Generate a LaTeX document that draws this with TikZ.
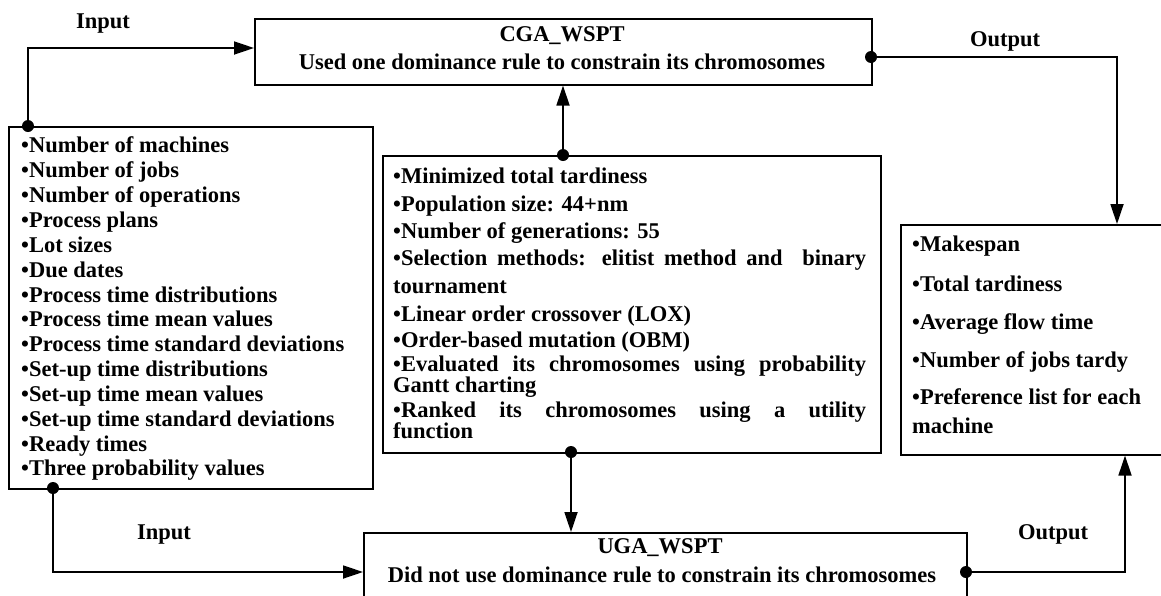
\documentclass[tikz,border=0pt]{standalone}
\usepackage{fontspec}
\setmainfont{Liberation Serif}
\usetikzlibrary{arrows.meta,calc}
\begin{document}
\begin{tikzpicture}[x=1pt,y=-1pt,
  box/.style={draw,line width=1.6pt,anchor=north west,inner sep=0pt},
  txt/.style={font=\fontsize{22.5}{24}\selectfont\bfseries,inner sep=0pt,text height=0.68em,text depth=0.2em,yshift=-3.5pt},
  lt/.style={txt,anchor=west},
  conn/.style={line width=1.8pt},
  arr/.style={conn,-{Triangle[length=20pt,width=13pt]}},
  dot/.style={circle,fill,inner sep=0pt,minimum size=12pt}]
\useasboundingbox (0,0) rectangle (1161,595);
% boxes
\node[box,minimum width=617pt,minimum height=66pt] (cga) at (254,18) {};
\node[box,minimum width=364pt,minimum height=362pt] (inb) at (8,126) {};
\node[box,minimum width=498pt,minimum height=297pt] (prm) at (382,155) {};
\node[box,minimum width=280pt,minimum height=230pt] (outb) at (900,224) {};
\node[box,minimum width=603pt,minimum height=80pt] (uga) at (363,532) {};
% box titles
\node[txt] (cgat) at (562,36) {CGA\_WSPT};
\node[txt] (cgas) at (562,64) {Used one dominance rule to constrain its chromosomes};
\node[txt] (ugat) at (660,548) {UGA\_WSPT};
\node[txt] (ugas) at (662,577) {Did not use dominance rule to constrain its chromosomes};
% left box
\foreach \t [count=\i from 0] in {Number of machines,Number of jobs,Number of operations,Process plans,Lot sizes,Due dates,Process time distributions,Process time mean values,Process time standard deviations,Set-up time distributions,Set-up time mean values,Set-up time standard deviations,Ready times,Three probability values}
  \node[lt] (in\i) at (21,{147+24.85*\i}) {•\t};
% middle box
\node[lt] (p1) at (393,178) {•Minimized total tardiness};
\node[lt] (p2) at (393,206) {•Population size: 44+nm};
\node[lt] (p3) at (393,233) {•Number of generations: 55};
\node[lt] (p4) at (393,260) {\makebox[473pt][s]{•Selection methods: elitist method and\ \ binary}};
\node[lt] (p5) at (393,288) {tournament};
\node[lt] (p6) at (393,316) {•Linear order crossover (LOX)};
\node[lt] (p7) at (393,342) {•Order-based mutation (OBM)};
\node[lt] (p8) at (393,366) {\makebox[473pt][s]{•Evaluated its chromosomes using probability}};
\node[lt] (p9) at (393,387) {Gantt charting};
\node[lt] (p10) at (393,412) {\makebox[473pt][s]{•Ranked its chromosomes using a utility}};
\node[lt] (p11) at (393,433) {function};
% right box
\node[lt] (o1) at (912,246) {•Makespan};
\node[lt] (o2) at (912,286) {•Total tardiness};
\node[lt] (o3) at (912,324) {•Average flow time};
\node[lt] (o4) at (912,362) {•Number of jobs tardy};
\node[lt] (o5) at (912,399) {•Preference list for each};
\node[lt] (o6) at (912,428) {machine};
% labels
\node[txt] (lin1) at (103,23) {Input};
\node[txt] (lin2) at (164,534) {Input};
\node[txt] (lout1) at (1005,41) {Output};
\node[txt] (lout2) at (1053,534) {Output};
% junction points
\coordinate (j1) at (28,126);
\coordinate (j2) at (563,155);
\coordinate (j3) at (871,57);
\coordinate (j4) at (571,452);
\coordinate (j5) at (53,488);
\coordinate (j6) at (966,572);
\foreach \j in {j1,j2,j3,j4,j5,j6} \node[dot] at (\j) {};
% connectors
\draw[arr] (j1) |- (cga.west |- 0,48);
\draw[arr] (j2) -- (j2 |- cga.south);
\draw[arr] (j3) -| (outb.north -| 1117,0);
\draw[arr] (j4) -- (j4 |- uga.north);
\draw[arr] (j5) |- (uga.west |- 0,572);
\draw[arr] (j6) -| (outb.south -| 1125,0);
\end{tikzpicture}
\end{document}
